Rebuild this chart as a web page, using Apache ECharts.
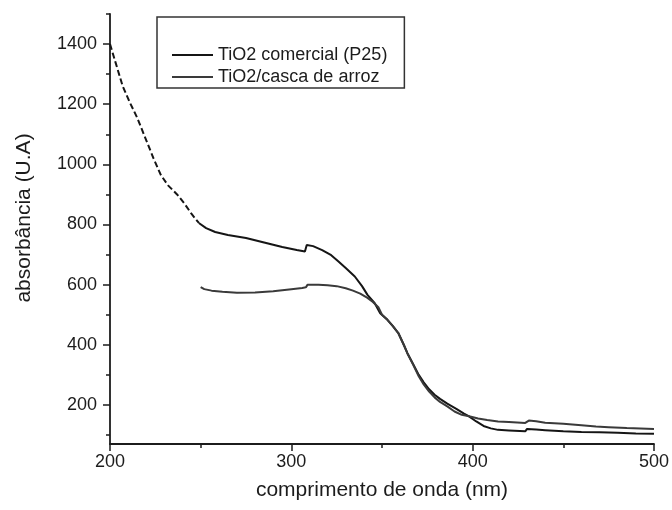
<!DOCTYPE html>
<html lang="pt">
<head>
    <meta charset="UTF-8">
    <title>absorbância</title>
    <script src="https://cdn.jsdelivr.net/npm/echarts@6/dist/echarts.min.js"></script>
    <style>
        html, body { margin: 0; padding: 0; background: #fff; }
        #chart { width: 672px; height: 510px; }
    </style>
</head>
<body>
<div id="chart"></div>
<script>
    // dados
    var p25Wl  = [200, 203, 207, 211, 215, 220, 224, 228, 232, 237, 241, 245, 249, 253, 258, 265, 275, 285, 295, 303, 307.5, 308.5, 312, 317, 322, 326, 330, 335, 339, 342, 346, 349, 353, 356, 359, 362, 364, 367, 370, 373, 376, 379, 382, 386, 391, 395, 398, 402, 406, 410, 414, 420, 429, 430, 435, 440, 450, 460, 470, 480, 490, 500];
    var p25Abs = [1400, 1340, 1260, 1205, 1155, 1080, 1020, 965, 930, 900, 870, 835, 805, 788, 775, 765, 755, 740, 725, 715, 710, 732, 728, 715, 698, 677, 655, 627, 595, 566, 538, 505, 483, 462, 439, 400, 372, 338, 303, 275, 252, 234, 220, 204, 187, 172, 162, 145, 130, 122, 117, 115, 112, 120, 118, 116, 112, 110, 109, 107, 105, 104];
    var cascaWl  = [250, 252, 256, 262, 270, 280, 290, 300, 306, 308, 309, 315, 320, 325, 330, 334, 338, 342, 345, 348, 350, 353, 356, 359, 362, 364, 367, 370, 373, 376, 379, 382, 386, 390, 394, 398, 403, 408, 414, 420, 429, 431, 435, 440, 450, 460, 468, 475, 485, 500];
    var cascaAbs = [592, 585, 580, 576, 573, 574, 578, 585, 589, 591, 600, 600, 598, 595, 588, 580, 570, 556, 542, 525, 500, 483, 462, 439, 400, 372, 336, 298, 268, 244, 225, 210, 195, 178, 167, 162, 155, 150, 145, 143, 140, 148, 146, 141, 137, 132, 128, 126, 123, 120];
    var dashedUntil = 249;   // trecho inicial tracejado
    var yLabels = [200, 400, 600, 800, 1000, 1200, 1400];
    var yMinor  = [100, 300, 500, 700, 900, 1100, 1300, 1500];
    var names = ['TiO2 comercial (P25)', 'TiO2/casca de arroz'];

    function pairs(wl, ab, from, to) {
        var out = [];
        for (var i = 0; i < wl.length; i++) {
            if (wl[i] >= from && wl[i] <= to) out.push([wl[i], ab[i]]);
        }
        return out;
    }

    var font = 'Liberation Sans, Arial, sans-serif';
    var ink = '#1c1c1c';

    var chart = echarts.init(document.getElementById('chart'), null, { renderer: 'canvas' });
    chart.setOption({
        animation: false,
        backgroundColor: '#fff',
        grid: { left: 110, right: 14, top: 14, bottom: 66, containLabel: false },
        legend: {
            data: names,
            orient: 'vertical',
            left: 157, top: 17,
            padding: [28, 17, 1, 15],
            itemGap: 2,
            icon: 'rect',
            itemWidth: 41, itemHeight: 2,
            borderColor: '#333', borderWidth: 1.5,
            textStyle: { fontFamily: font, fontSize: 18, color: ink, lineHeight: 20 }
        },
        graphic: [{
            type: 'text', x: 24, y: 218, rotation: Math.PI / 2,
            style: { text: 'absorbância (U.A)', font: '21px ' + font, fill: ink,
                     align: 'center', verticalAlign: 'middle' }
        }],
        xAxis: {
            type: 'value', min: 200, max: 500, interval: 100,
            name: 'comprimento de onda (nm)', nameLocation: 'middle', nameGap: 36,
            nameTextStyle: { fontFamily: font, fontSize: 21, color: ink },
            axisLine: { lineStyle: { color: ink, width: 1.8 } },
            axisTick: { inside: false, length: 7, lineStyle: { color: ink, width: 1.5 } },
            minorTick: { show: true, splitNumber: 2, length: 4, lineStyle: { color: ink, width: 1.5 } },
            axisLabel: { fontFamily: font, fontSize: 18, color: ink, margin: 9 },
            splitLine: { show: false }
        },
        yAxis: [{
            type: 'value', min: 70, max: 1500,
            axisLine: { show: true, lineStyle: { color: ink, width: 1.8 } },
            axisTick: { show: true, length: 7, customValues: yLabels, lineStyle: { color: ink, width: 1.5 } },
            axisLabel: { fontFamily: font, fontSize: 18, color: ink, margin: 13, customValues: yLabels,
                         formatter: function (v) { return String(v); } },
            splitLine: { show: false }
        }, {
            type: 'value', min: 70, max: 1500, position: 'left',
            axisLine: { show: false },
            axisTick: { show: true, length: 4, customValues: yMinor, lineStyle: { color: ink, width: 1.5 } },
            axisLabel: { show: false },
            splitLine: { show: false }
        }],
        series: [{
            name: names[0], type: 'line', showSymbol: false, symbol: 'none',
            data: pairs(p25Wl, p25Abs, dashedUntil, 1000),
            lineStyle: { color: '#151515', width: 2 }, itemStyle: { color: '#151515' }
        }, {
            name: names[0], type: 'line', showSymbol: false, symbol: 'none',
            data: pairs(p25Wl, p25Abs, 0, dashedUntil),
            lineStyle: { color: '#151515', width: 2, type: [6, 3] }, itemStyle: { color: '#151515' }
        }, {
            name: names[1], type: 'line', showSymbol: false, symbol: 'none',
            data: pairs(cascaWl, cascaAbs, 0, 1000),
            lineStyle: { color: '#3a3a3a', width: 2 }, itemStyle: { color: '#3a3a3a' }
        }]
    });
</script>
</body>
</html>
